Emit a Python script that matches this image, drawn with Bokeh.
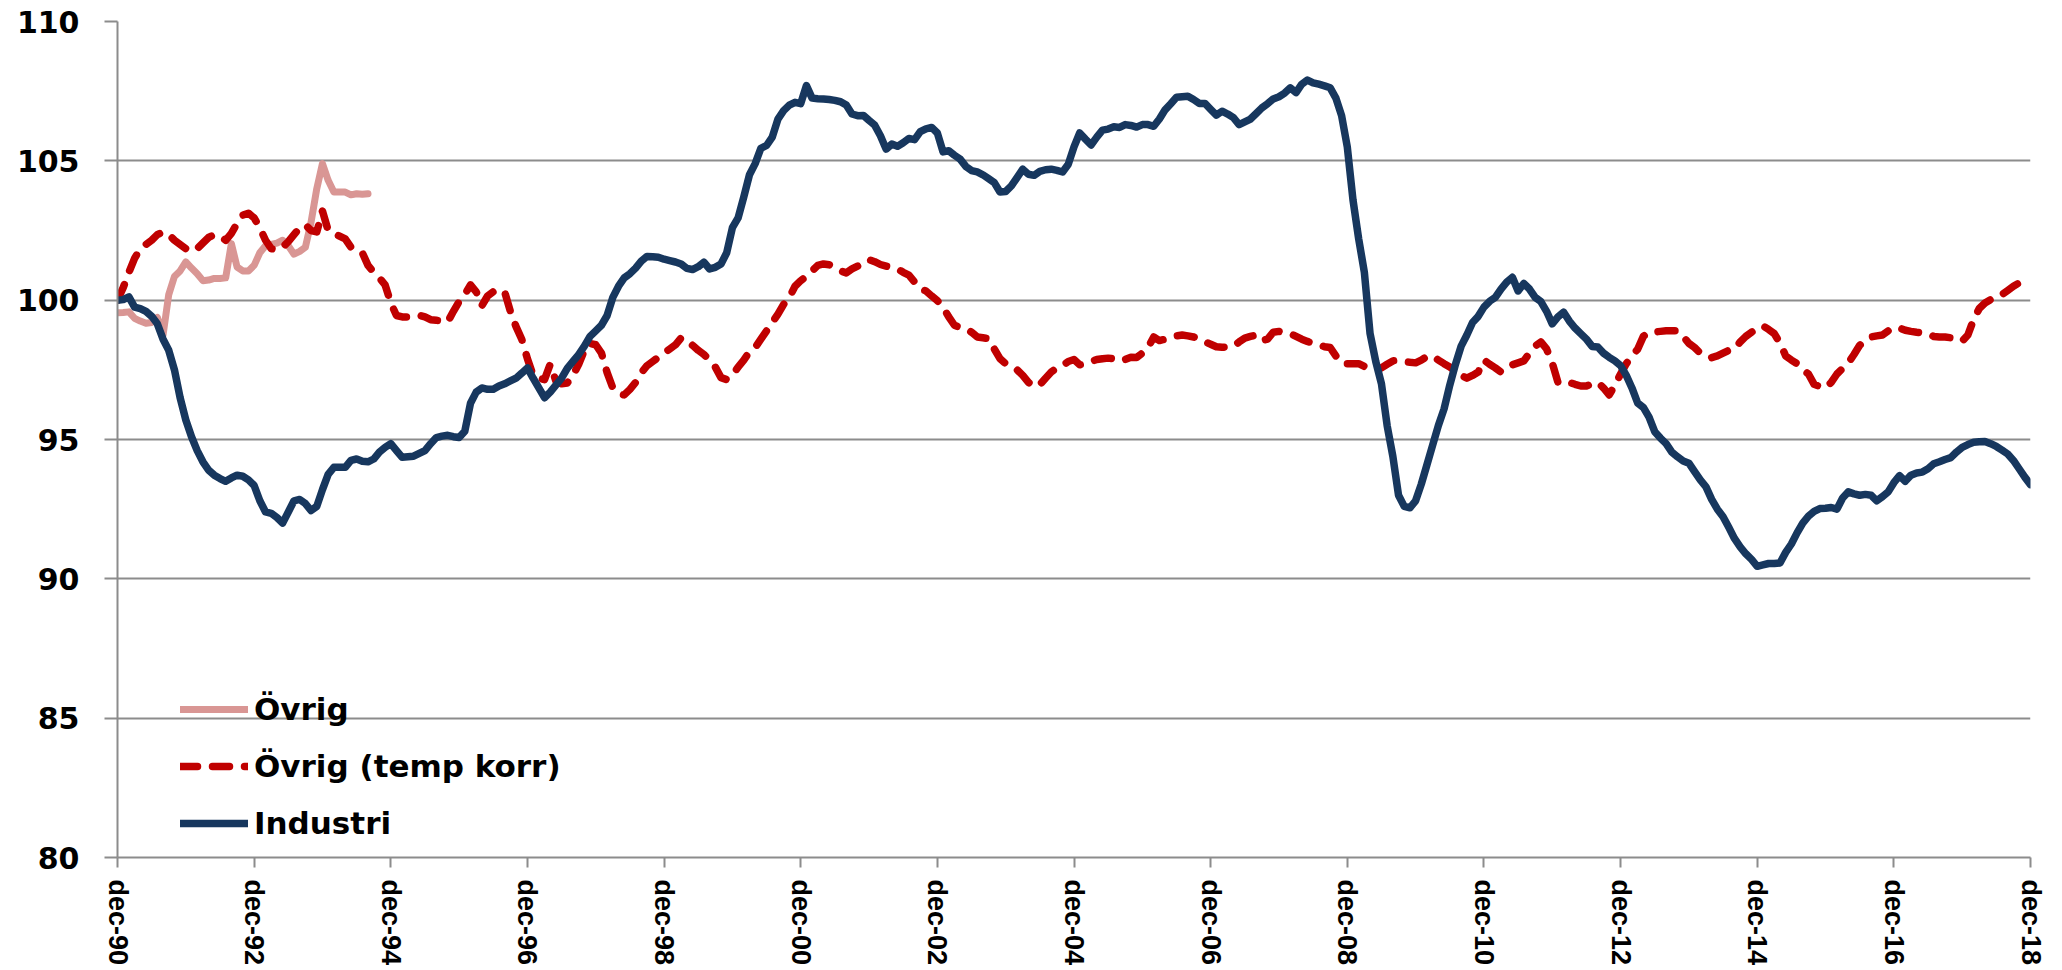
from bokeh.plotting import figure
from bokeh.models import FixedTicker, Legend, LegendItem
from bokeh.embed import file_html
from bokeh.resources import INLINE

# ---------------- data (monthly, month 0 = dec-90) ----------------
tick_labels = ["dec-90", "dec-92", "dec-94", "dec-96", "dec-98", "dec-00", "dec-02",
               "dec-04", "dec-06", "dec-08", "dec-10", "dec-12", "dec-14", "dec-16", "dec-18"]
y_ticks = [80, 85, 90, 95, 100, 105, 110]

industri = [
    100.0, 100.02, 100.12, 99.75, 99.7, 99.6, 99.42, 99.15, 98.6, 98.2, 97.5, 96.5,
    95.7, 95.1, 94.6, 94.2, 93.9, 93.72, 93.6, 93.5, 93.62, 93.72, 93.68, 93.55,
    93.35, 92.8, 92.4, 92.35, 92.2, 92.0, 92.4, 92.8, 92.85, 92.7, 92.45, 92.6,
    93.2, 93.75, 94.0, 94.0, 94.0, 94.25, 94.3, 94.22, 94.2, 94.3, 94.55, 94.72,
    94.85, 94.6, 94.36, 94.38, 94.4, 94.5, 94.6, 94.85, 95.07, 95.12, 95.15, 95.1,
    95.07, 95.3, 96.3, 96.7, 96.85, 96.8, 96.8, 96.92, 97.0, 97.1, 97.2, 97.38,
    97.57, 97.2, 96.85, 96.5, 96.7, 96.95, 97.2, 97.55, 97.8, 98.05, 98.35, 98.7,
    98.9, 99.1, 99.45, 100.1, 100.5, 100.8, 100.95, 101.15, 101.4, 101.57, 101.56, 101.54,
    101.47, 101.42, 101.37, 101.3, 101.14, 101.1, 101.2, 101.36, 101.12, 101.18, 101.3, 101.7,
    102.6, 102.95, 103.7, 104.5, 104.9, 105.45, 105.55, 105.85, 106.5, 106.8, 107.0, 107.1,
    107.05, 107.7, 107.25, 107.23, 107.22, 107.2, 107.17, 107.12, 107.0, 106.68, 106.62, 106.63,
    106.45, 106.28, 105.9, 105.42, 105.6, 105.52, 105.65, 105.8, 105.76, 106.05, 106.15, 106.2,
    106.0, 105.32, 105.36, 105.2, 105.06, 104.8, 104.65, 104.6, 104.5, 104.36, 104.22, 103.88,
    103.9, 104.1, 104.4, 104.7, 104.52, 104.48, 104.62, 104.68, 104.7, 104.66, 104.6, 104.88,
    105.5, 106.0, 105.78, 105.57, 105.85, 106.1, 106.14, 106.22, 106.2, 106.3, 106.27, 106.21,
    106.3, 106.3, 106.24, 106.5, 106.83, 107.05, 107.28, 107.3, 107.32, 107.2, 107.06, 107.06,
    106.85, 106.64, 106.78, 106.68, 106.55, 106.3, 106.4, 106.5, 106.7, 106.9, 107.05, 107.22,
    107.3, 107.43, 107.62, 107.45, 107.75, 107.9, 107.8, 107.75, 107.69, 107.62, 107.25, 106.62,
    105.5, 103.6, 102.2, 101.0, 98.8, 97.8, 97.0, 95.5, 94.4, 93.0, 92.6, 92.55,
    92.8, 93.4, 94.1, 94.8, 95.5, 96.1, 96.95, 97.7, 98.35, 98.75, 99.2, 99.42,
    99.75, 99.96, 100.1, 100.4, 100.65, 100.82, 100.33, 100.6, 100.4, 100.1, 99.95, 99.6,
    99.15, 99.4, 99.57, 99.25, 99.0, 98.8, 98.6, 98.34, 98.32, 98.1, 97.95, 97.82,
    97.65, 97.3, 96.85, 96.31, 96.15, 95.8, 95.28, 95.05, 94.85, 94.55, 94.38, 94.23,
    94.15, 93.85, 93.55, 93.3, 92.85, 92.5, 92.23, 91.85, 91.45, 91.15, 90.9, 90.7,
    90.45, 90.5, 90.55, 90.55, 90.57, 90.95, 91.25, 91.65, 92.0, 92.25, 92.42, 92.52,
    92.53, 92.56, 92.5, 92.9, 93.12, 93.05, 93.0, 93.03, 93.0, 92.8, 92.95, 93.12,
    93.45, 93.7, 93.5, 93.72, 93.8, 93.83, 93.95, 94.13, 94.2, 94.28, 94.35, 94.55,
    94.72, 94.82, 94.9, 94.92, 94.93, 94.85, 94.75, 94.62, 94.48, 94.25, 93.95, 93.65,
    93.38,
]

ovrig_temp = [
    100.0, 100.45, 101.0, 101.5, 101.85, 102.0, 102.15, 102.35, 102.45, 102.35, 102.15, 102.0,
    101.85, 101.75, 101.85, 102.05, 102.25, 102.35, 102.3, 102.15, 102.4, 102.75, 103.05, 103.12,
    102.95, 102.6, 102.15, 101.85, 101.8, 101.9, 102.1, 102.35, 102.6, 102.7, 102.5, 102.45,
    103.2, 102.5, 102.4, 102.3, 102.2, 101.9, 101.78, 101.7, 101.25, 101.0, 100.8, 100.55,
    99.9, 99.45, 99.4, 99.4, 99.42, 99.46, 99.4, 99.3, 99.28, 99.25, 99.22, 99.6,
    99.95, 100.2, 100.55, 100.3, 99.8, 100.15, 100.3, 100.37, 100.3, 99.6, 99.05, 98.6,
    97.9, 97.3, 97.2, 97.15, 97.7, 97.1, 97.0, 97.03, 97.3, 97.7, 98.2, 98.45,
    98.4, 98.1, 97.4, 96.85, 96.65, 96.6, 96.8, 97.05, 97.4, 97.65, 97.8, 97.95,
    98.1, 98.25, 98.4, 98.65, 98.55, 98.38, 98.2, 98.05, 97.85, 97.6, 97.22, 97.15,
    97.3, 97.6, 97.85, 98.15, 98.3, 98.6, 98.9, 99.2, 99.5, 99.85, 100.1, 100.5,
    100.7, 100.85, 101.05, 101.25, 101.3, 101.27, 101.15, 101.05, 100.98, 101.12, 101.22, 101.3,
    101.45, 101.38, 101.28, 101.22, 101.18, 101.12, 101.0, 100.9, 100.65, 100.4, 100.33, 100.15,
    99.98, 99.75, 99.4, 99.1, 99.02, 98.98, 98.85, 98.68, 98.65, 98.62, 98.25, 97.9,
    97.72, 97.6, 97.5, 97.3, 97.05, 96.9, 96.97, 97.2, 97.42, 97.57, 97.65, 97.8,
    97.87, 97.68, 97.72, 97.8, 97.87, 97.9, 97.92, 97.9, 97.95, 97.87, 97.95, 97.94,
    98.1, 98.3, 98.68, 98.55, 98.6, 98.68, 98.72, 98.75, 98.72, 98.68, 98.62, 98.5,
    98.42, 98.33, 98.31, 98.32, 98.34, 98.5, 98.64, 98.7, 98.75, 98.55, 98.6, 98.85,
    98.88, 98.82, 98.8, 98.7, 98.6, 98.52, 98.45, 98.4, 98.33, 98.3, 98.0, 97.75,
    97.72, 97.72, 97.72, 97.62, 97.57, 97.57, 97.57, 97.7, 97.82, 97.84, 97.8, 97.77,
    97.75, 97.85, 97.98, 98.0, 97.85, 97.72, 97.6, 97.45, 97.3, 97.2, 97.3, 97.42,
    97.85, 97.7, 97.57, 97.42, 97.55, 97.68, 97.75, 97.82, 98.1, 98.35, 98.5, 98.25,
    97.75, 97.05, 97.0, 97.05, 96.98, 96.92, 96.92, 97.0, 97.05, 96.85, 96.6, 96.95,
    97.35, 97.72, 98.0, 98.24, 98.7, 98.85, 98.86, 98.88, 98.9, 98.9, 98.9, 98.7,
    98.45, 98.3, 98.1, 97.98, 97.94, 98.0, 98.1, 98.2, 98.25, 98.5, 98.7, 98.85,
    98.98, 99.08, 98.95, 98.8, 98.46, 98.0, 97.85, 97.72, 97.5, 97.35, 96.98, 96.9,
    96.85, 97.05, 97.35, 97.55, 97.75, 98.05, 98.38, 98.55, 98.68, 98.72, 98.75, 98.9,
    99.02, 99.0, 98.92, 98.88, 98.85, 98.83, 98.78, 98.7, 98.68, 98.68, 98.65, 98.6,
    98.53, 98.75, 99.3, 99.7, 99.9, 100.02, 100.08, 100.2, 100.35, 100.5, 100.62, 100.75,
    100.8,
]

ovrig = [
    99.55, 99.56, 99.58, 99.35, 99.25, 99.17, 99.2, 99.38, 98.75, 100.2, 100.85, 101.05,
    101.37, 101.15, 100.95, 100.7, 100.72, 100.78, 100.78, 100.8, 102.03, 101.19, 101.05, 101.05,
    101.25, 101.7, 101.95, 102.0, 102.05, 102.15, 101.95, 101.65, 101.75, 101.9, 102.8, 104.0,
    104.9, 104.3, 103.88, 103.88, 103.88, 103.78, 103.82, 103.8, 103.82,
]

series_names = ["Övrig", "Övrig (temp korr)", "Industri"]
colors = ["#D99694", "#C00000", "#17375E"]

months_ind = list(range(len(industri)))
months_temp = list(range(len(ovrig_temp)))
months_ovr = list(range(len(ovrig)))
x_ticks = [i * 24 for i in range(len(tick_labels))]

# ---------------- figure ----------------
p = figure(width=2060, height=968, x_range=(0, 336), y_range=(80, 110),
           output_backend="svg", toolbar_location=None,
           min_border_left=117, min_border_right=30, min_border_top=21, min_border_bottom=110)
p.outline_line_color = None
p.background_fill_color = "white"
p.border_fill_color = "white"

grid_col = "#8C8C8C"
p.xgrid.visible = False
p.ygrid.ticker = FixedTicker(ticks=y_ticks)
p.ygrid.grid_line_color = grid_col
p.ygrid.grid_line_width = 2

# y axis
ya = p.yaxis[0]
ya.ticker = FixedTicker(ticks=y_ticks)
ya.axis_line_color = grid_col
ya.axis_line_width = 2
ya.major_tick_line_color = grid_col
ya.major_tick_line_width = 2
ya.major_tick_out = 13
ya.major_tick_in = 0
ya.minor_tick_line_color = None
ya.major_label_text_font = "DejaVu Sans"
ya.major_label_text_font_style = "bold"
ya.major_label_text_font_size = "30px"
ya.major_label_text_color = "black"
ya.major_label_standoff = 25

# x axis
xa = p.xaxis[0]
xa.ticker = FixedTicker(ticks=x_ticks)
xa.major_label_overrides = {t: lab for t, lab in zip(x_ticks, tick_labels)}
xa.major_label_orientation = "vertical"
xa.axis_line_color = grid_col
xa.axis_line_width = 2
xa.major_tick_line_color = grid_col
xa.major_tick_line_width = 2
xa.major_tick_out = 10
xa.major_tick_in = 0
xa.minor_tick_line_color = None
xa.major_label_text_font = "Liberation Sans"
xa.major_label_text_font_style = "bold"
xa.major_label_text_font_size = "27px"
xa.major_label_text_color = "black"
xa.major_label_standoff = 12

# lines
r_ovr = p.line(months_ovr, ovrig, line_color=colors[0], line_width=7,
               line_join="round", line_cap="round")
r_temp = p.line(months_temp, ovrig_temp, line_color=colors[1], line_width=7.5,
                line_dash="17 15", line_join="round", line_cap="round")
r_ind = p.line(months_ind, industri, line_color=colors[2], line_width=7.5,
               line_join="round", line_cap="round")

legend = Legend(items=[LegendItem(label=series_names[0], renderers=[r_ovr]),
                       LegendItem(label=series_names[1], renderers=[r_temp]),
                       LegendItem(label=series_names[2], renderers=[r_ind])],
                location=(63, 14))
legend.border_line_color = None
legend.background_fill_alpha = 0
legend.padding = 0
legend.margin = 0
legend.spacing = 17
legend.glyph_width = 68
legend.glyph_height = 40
legend.label_height = 40
legend.label_standoff = 6
legend.label_text_font = "DejaVu Sans"
legend.label_text_font_style = "bold"
legend.label_text_font_size = "31px"
legend.label_text_color = "black"
p.add_layout(legend)

open("out.html", "w").write(file_html(p, INLINE))
